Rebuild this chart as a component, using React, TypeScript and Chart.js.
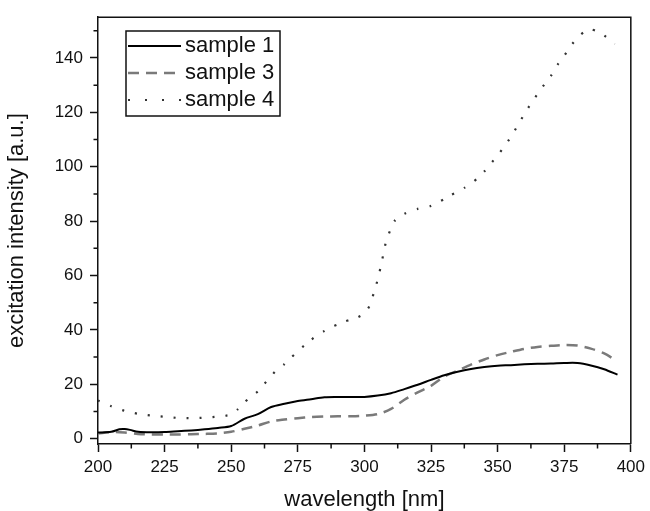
import React, { useEffect, useRef } from "react";
import { Chart, registerables } from "chart.js";

Chart.register(...registerables);

const wavelengths = [200, 205, 208, 210, 212, 215, 220, 225, 230, 235, 240, 245, 250, 255, 260, 265, 270, 275, 280, 285, 290, 295, 300, 305, 310, 315, 320, 325, 330, 335, 340, 345, 350, 355, 360, 365, 370, 375, 380, 385, 390, 395];
const sample1 = [2.2, 2.5, 3.4, 3.5, 3.2, 2.5, 2.3, 2.4, 2.7, 3.0, 3.4, 3.9, 4.6, 7.3, 9.0, 11.6, 12.8, 13.8, 14.5, 15.2, 15.3, 15.3, 15.3, 15.8, 16.7, 18.2, 19.8, 21.6, 23.3, 24.6, 25.6, 26.3, 26.8, 27.0, 27.3, 27.5, 27.6, 27.8, 27.8, 26.9, 25.5, 23.5];

const wavelengths3 = [200, 205, 210, 215, 220, 225, 230, 235, 240, 245, 250, 255, 260, 265, 270, 275, 280, 285, 290, 295, 300, 305, 310, 315, 320, 325, 330, 335, 340, 345, 350, 355, 360, 365, 370, 375, 380, 385, 390, 394];
const sample3 = [1.9, 2.4, 2.2, 1.7, 1.5, 1.5, 1.5, 1.6, 1.7, 1.9, 2.5, 3.6, 4.8, 6.3, 7.0, 7.5, 7.9, 8.1, 8.2, 8.2, 8.4, 9.0, 10.9, 14.3, 17.0, 19.4, 22.8, 25.0, 27.2, 29.1, 30.7, 31.9, 33.0, 33.7, 34.1, 34.4, 34.2, 33.1, 31.3, 29.0];

const wavelengths4 = [200, 205, 210, 215, 220, 225, 230, 235, 240, 245, 250, 252.5, 255, 257.5, 260, 262.5, 265, 267.5, 270, 272.5, 275, 277.5, 280, 282.5, 285, 287.5, 290, 292.5, 295, 297.5, 300, 302, 303.5, 305, 306, 307, 308, 309.6, 311.3, 313, 315, 317.5, 320, 322.5, 325, 327.5, 330, 332.5, 335, 337.5, 340, 342.5, 345, 347.5, 350, 352.5, 355, 357.5, 360, 362.5, 365, 367.5, 370, 372.5, 375, 377.5, 380, 382.5, 385, 387.5, 390, 394];
const sample4 = [14.0, 11.9, 10.2, 9.1, 8.5, 8.0, 7.6, 7.5, 7.7, 8.1, 8.8, 10.8, 13.3, 15.6, 17.3, 20.2, 23.0, 25.7, 27.4, 29.8, 32.1, 34.3, 36.3, 38.2, 39.6, 41.0, 42.0, 43.0, 43.8, 44.6, 46.0, 48.9, 53.5, 58.5, 62.7, 67.3, 72.0, 76.4, 80.0, 81.5, 82.7, 83.8, 84.5, 85.1, 85.6, 86.8, 88.1, 89.6, 90.8, 92.2, 93.8, 95.8, 98.2, 101.2, 104.2, 107.4, 111.0, 115.1, 119.3, 123.2, 126.8, 130.2, 133.4, 137.5, 140.8, 144.5, 147.5, 149.6, 150.5, 149.7, 148.3, 145.2];

const seriesLabels = ["sample 1", "sample 3", "sample 4"];
const xTicks = [200, 225, 250, 275, 300, 325, 350, 375, 400];
const yTicks = [0, 20, 40, 60, 80, 100, 120, 140];
const xMinorTicks = [212.5, 237.5, 262.5, 287.5, 312.5, 337.5, 362.5, 387.5];
const yMinorTicks = [10, 30, 50, 70, 90, 110, 130, 150];

const FONT = "'Liberation Sans', Arial, Helvetica, sans-serif";
const AXIS_COLOR = "#111";

const pairs = (xs: number[], ys: number[]) => xs.map((x, i) => ({ x, y: ys[i] }));

const framePlugin = {
  id: "frameAndMinor",
  afterDraw(chart: any) {
    const { ctx, chartArea, scales } = chart;
    const { left, right, top, bottom } = chartArea;
    ctx.save();
    ctx.strokeStyle = AXIS_COLOR;
    ctx.lineWidth = 1.5;
    ctx.beginPath();
    ctx.moveTo(left, top);
    ctx.lineTo(right, top);
    ctx.lineTo(right, bottom);
    ctx.stroke();
    // minor ticks
    ctx.lineWidth = 1.5;
    ctx.beginPath();
    xMinorTicks.forEach((v) => {
      const px = scales.x.getPixelForValue(v);
      ctx.moveTo(px, bottom);
      ctx.lineTo(px, bottom + 4.5);
    });
    yMinorTicks.forEach((v) => {
      const py = scales.y.getPixelForValue(v);
      ctx.moveTo(left, py);
      ctx.lineTo(left - 4.5, py);
    });
    ctx.stroke();

    // legend box
    const bx = 126, by = 31, bw = 154, bh = 85;
    ctx.fillStyle = "#fff";
    ctx.fillRect(bx, by, bw, bh);
    ctx.lineWidth = 1.5;
    ctx.strokeStyle = "#111";
    ctx.strokeRect(bx, by, bw, bh);
    const rowY = [46, 73, 100];
    chart.data.datasets.forEach((ds: any, i: number) => {
      const y = rowY[i];
      ctx.save();
      ctx.strokeStyle = ds.borderColor;
      ctx.lineWidth = ds.borderWidth;
      ctx.setLineDash(i === 2 ? [2, 15] : ds.borderDash || []);
      ctx.beginPath();
      ctx.moveTo(128, y);
      ctx.lineTo(181, y);
      ctx.stroke();
      ctx.restore();
      ctx.fillStyle = "#111";
      ctx.font = `22px ${FONT}`;
      ctx.textBaseline = "middle";
      ctx.textAlign = "left";
      ctx.fillText(ds.label, 185, y);
    });
    ctx.restore();
  },
};

export default function App() {
  const canvasRef = useRef<HTMLCanvasElement | null>(null);

  useEffect(() => {
    document.body.style.margin = "0";
    const canvas = canvasRef.current;
    if (!canvas) return;
    const chart = new Chart(canvas, {
      type: "line",
      data: {
        datasets: [
          {
            label: seriesLabels[0],
            data: pairs(wavelengths, sample1),
            borderColor: "#000",
            borderWidth: 2,
            pointRadius: 0,
            tension: 0.3,
            fill: false,
          },
          {
            label: seriesLabels[1],
            data: pairs(wavelengths3, sample3),
            borderColor: "#7a7a7a",
            borderWidth: 2.5,
            borderDash: [11, 7],
            pointRadius: 0,
            tension: 0.3,
            fill: false,
          },
          {
            label: seriesLabels[2],
            data: pairs(wavelengths4, sample4),
            borderColor: "#333",
            borderWidth: 2.2,
            borderDash: [2, 11],
            pointRadius: 0,
            tension: 0.2,
            fill: false,
          },
        ],
      },
      options: {
        responsive: false,
        animation: false,
        layout: { padding: { left: 0, top: 13, right: 14, bottom: 0 } },
        plugins: {
          legend: { display: false },
          tooltip: { enabled: false },
        },
        scales: {
          x: {
            type: "linear",
            min: 200,
            max: 400,
            afterBuildTicks: (axis: any) => {
              axis.ticks = xTicks.map((v) => ({ value: v }));
            },
            afterFit: (scale: any) => {
              scale.height = 67;
            },
            grid: {
              display: true,
              drawOnChartArea: false,
              drawTicks: true,
              tickLength: 8,
              tickWidth: 1.5,
              tickColor: AXIS_COLOR,
              color: AXIS_COLOR,
            },
            border: { display: true, color: AXIS_COLOR, width: 1.5 },
            ticks: {
              padding: 5,
              color: "#111",
              autoSkip: false,
              maxRotation: 0,
              font: { family: FONT, size: 17 },
            },
            title: {
              display: true,
              text: "wavelength [nm]",
              color: "#111",
              font: { family: FONT, size: 22 },
              padding: { top: 0, bottom: -2 },
            },
          },
          y: {
            type: "linear",
            min: -2,
            max: 155,
            afterBuildTicks: (axis: any) => {
              axis.ticks = yTicks.map((v) => ({ value: v }));
            },
            afterFit: (scale: any) => {
              scale.width = 98;
            },
            grid: {
              display: true,
              drawOnChartArea: false,
              drawTicks: true,
              tickLength: 8,
              tickWidth: 1.5,
              tickColor: AXIS_COLOR,
              color: AXIS_COLOR,
            },
            border: { display: true, color: AXIS_COLOR, width: 1.5 },
            ticks: {
              padding: 7,
              color: "#111",
              font: { family: FONT, size: 17 },
            },
            title: {
              display: true,
              text: "excitation intensity [a.u.]",
              color: "#111",
              font: { family: FONT, size: 22 },
              padding: { top: 4, bottom: 0 },
            },
          },
        },
      },
      plugins: [framePlugin],
    } as any);
    return () => chart.destroy();
  }, []);

  return <canvas ref={canvasRef} width={650} height={511} style={{ display: "block" }} />;
}
